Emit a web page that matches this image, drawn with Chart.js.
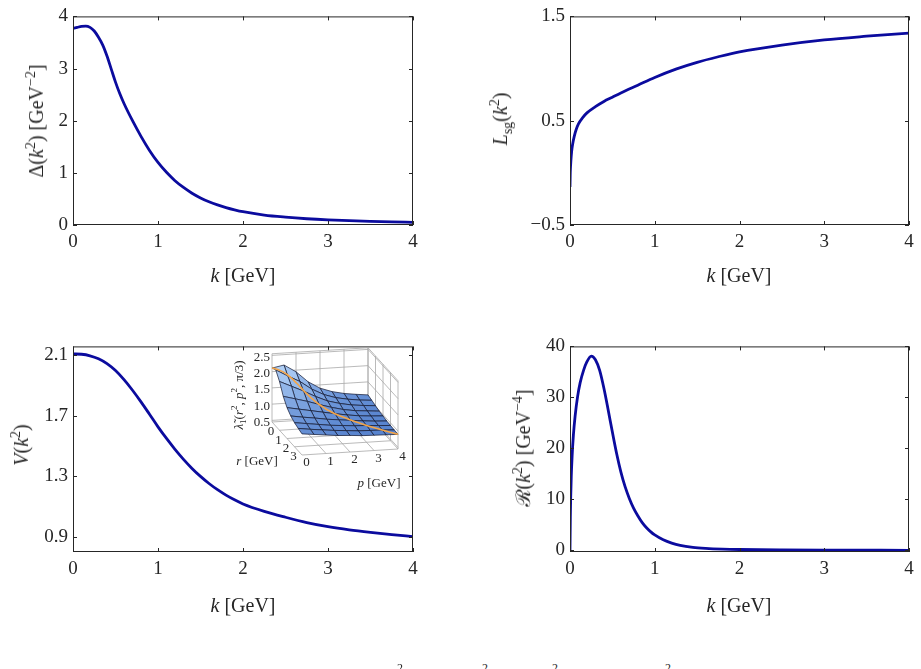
<!DOCTYPE html>
<html>
<head>
<meta charset="utf-8">
<script src="https://cdn.jsdelivr.net/npm/chart.js@4.4.1/dist/chart.umd.min.js"></script>
<style>
  html, body { margin: 0; padding: 0; background: #fff; }
  body { width: 921px; height: 669px; position: relative; overflow: hidden;
         font-family: "Liberation Serif", "DejaVu Serif", serif; color: #262626; }
  canvas { position: absolute; }
  .lbl { position: absolute; white-space: nowrap; font-size: 20px; line-height: 1;
         transform: translate(-50%, -50%); }
  .rot { transform: translate(-50%, -50%) rotate(-90deg); }
  .sm { font-size: 13px; }
  .cap { font-size: 12px; }
  sup, sub { font-size: 0.7em; line-height: 0; }
</style>
</head>
<body>
<canvas id="cDelta" width="460" height="300" style="left:0;top:0"></canvas>
<canvas id="cL" width="461" height="300" style="left:460px;top:0"></canvas>
<canvas id="cV" width="460" height="300" style="left:0;top:330px"></canvas>
<canvas id="cR" width="461" height="300" style="left:460px;top:330px"></canvas>
<canvas id="cInset" width="195" height="155" style="left:225px;top:345px"></canvas>

<div class="lbl" style="left:243px;top:275px"><i>k</i> [GeV]</div>
<div class="lbl" style="left:739px;top:275px"><i>k</i> [GeV]</div>
<div class="lbl" style="left:243px;top:605px"><i>k</i> [GeV]</div>
<div class="lbl" style="left:739px;top:605px"><i>k</i> [GeV]</div>
<div class="lbl rot" style="left:36px;top:121px">Δ(<i>k</i><sup>2</sup>) [GeV<sup>−2</sup>]</div>
<div class="lbl rot" style="left:500px;top:119px"><i>L</i><sub>sg</sub>(<i>k</i><sup>2</sup>)</div>
<div class="lbl rot" style="left:21px;top:445px"><i>V</i>(<i>k</i><sup>2</sup>)</div>
<div class="lbl rot" style="left:523px;top:448px">ℛ(<i>k</i><sup>2</sup>) [GeV<sup>−4</sup>]</div>

<div class="lbl sm rot" style="left:238px;top:395px"><i>λ̃</i><sub>1</sub>(<i>r</i><sup>2</sup>, <i>p</i><sup>2</sup>, π/3)</div>
<div class="lbl sm" style="left:257px;top:460px"><i>r</i> [GeV]</div>
<div class="lbl sm" style="left:379px;top:482px"><i>p</i> [GeV]</div>

<span class="lbl cap" style="left:400px;top:668px">2</span>
<span class="lbl cap" style="left:485px;top:668px">2</span>
<span class="lbl cap" style="left:555px;top:668px">2</span>
<span class="lbl cap" style="left:668px;top:668px">2</span>

<script>
// gluon propagator Delta(k^2)
const kDelta = [0, 0.05, 0.1, 0.15, 0.2, 0.25, 0.3, 0.35, 0.4, 0.45, 0.5, 0.55, 0.6, 0.7, 0.8, 0.9, 1.0, 1.1, 1.2, 1.3, 1.4, 1.5, 1.6, 1.7, 1.8, 1.9, 2.0, 2.25, 2.5, 2.75, 3.0, 3.25, 3.5, 3.75, 4.0];
const delta = [3.77, 3.79, 3.81, 3.815, 3.79, 3.72, 3.60, 3.45, 3.24, 2.99, 2.74, 2.52, 2.33, 2.0, 1.70, 1.43, 1.20, 1.01, 0.85, 0.72, 0.61, 0.52, 0.445, 0.385, 0.335, 0.292, 0.255, 0.19, 0.15, 0.12, 0.098, 0.082, 0.07, 0.06, 0.052];

// L_sg(k^2)
const kL = [0, 0.0025, 0.005, 0.01, 0.02, 0.03, 0.05, 0.075, 0.1, 0.15, 0.2, 0.3, 0.4, 0.5, 0.6, 0.8, 1.0, 1.25, 1.5, 1.75, 2.0, 2.5, 3.0, 3.5, 4.0];
const lsg = [-0.135, -0.02, 0.04, 0.11, 0.21, 0.27, 0.35, 0.42, 0.47, 0.53, 0.575, 0.635, 0.685, 0.725, 0.765, 0.84, 0.915, 0.995, 1.06, 1.113, 1.16, 1.225, 1.275, 1.31, 1.34];

// V(k^2)
const kV = [0, 0.1, 0.2, 0.3, 0.4, 0.5, 0.6, 0.7, 0.8, 0.9, 1.0, 1.1, 1.2, 1.3, 1.4, 1.5, 1.6, 1.7, 1.8, 1.9, 2.0, 2.25, 2.5, 2.75, 3.0, 3.25, 3.5, 3.75, 4.0];
const vk = [2.11, 2.108, 2.098, 2.078, 2.046, 2.0, 1.94, 1.87, 1.793, 1.711, 1.628, 1.551, 1.479, 1.413, 1.353, 1.30, 1.253, 1.212, 1.176, 1.145, 1.118, 1.069, 1.03, 0.995, 0.968, 0.947, 0.93, 0.915, 0.902];

// R(k^2)
const kR = [0, 0.004, 0.008, 0.015, 0.025, 0.04, 0.06, 0.09, 0.12, 0.16, 0.2, 0.25, 0.3, 0.35, 0.4, 0.45, 0.5, 0.55, 0.6, 0.65, 0.7, 0.75, 0.8, 0.85, 0.9, 0.95, 1.0, 1.1, 1.2, 1.3, 1.45, 1.6, 1.8, 2.0, 2.5, 3.0, 4.0];
const rk = [0, 6.5, 10.3, 14.5, 18.5, 22.6, 26.3, 30.2, 32.9, 35.3, 37.0, 38.1, 37.4, 35.3, 31.8, 27.6, 23.2, 19.0, 15.4, 12.5, 10.2, 8.3, 6.8, 5.5, 4.5, 3.7, 3.05, 2.1, 1.45, 1.0, 0.62, 0.42, 0.27, 0.19, 0.1, 0.06, 0.03];

// tick labels
const xTicks = [0, 1, 2, 3, 4];
const deltaTicks = [0, 1, 2, 3, 4];
const lTicks = [-0.5, 0.5, 1.5];
const vTicks = [0.9, 1.3, 1.7, 2.1];
const rTicks = [0, 10, 20, 30, 40];

// inset surface lambda1(r^2, p^2, pi/3): rows r, columns p
const gridR = [0, 0.5, 1, 1.5, 2, 2.5, 3, 3.5, 4];
const gridP = [0, 0.5, 1, 1.5, 2, 2.5, 3, 3.5, 4];
const lambdaGrid = [
  [2.11, 2.18, 1.95, 1.62, 1.40, 1.27, 1.19, 1.14, 1.10],
  [2.18, 1.97, 1.78, 1.52, 1.33, 1.21, 1.14, 1.09, 1.06],
  [1.95, 1.78, 1.61, 1.42, 1.26, 1.16, 1.09, 1.05, 1.02],
  [1.62, 1.52, 1.42, 1.30, 1.19, 1.10, 1.04, 1.01, 0.98],
  [1.40, 1.33, 1.26, 1.19, 1.12, 1.06, 1.01, 0.98, 0.96],
  [1.27, 1.21, 1.16, 1.10, 1.06, 1.02, 0.98, 0.95, 0.93],
  [1.19, 1.14, 1.09, 1.04, 1.01, 0.98, 0.965, 0.94, 0.92],
  [1.14, 1.09, 1.05, 1.01, 0.98, 0.95, 0.94, 0.93, 0.91],
  [1.10, 1.06, 1.02, 0.98, 0.96, 0.93, 0.92, 0.91, 0.90]
];
const insetZTicks = [0.5, 1.0, 1.5, 2.0, 2.5];
const insetRTicks = [0, 1, 2, 3];
const insetPTicks = [0, 1, 2, 3, 4];

const ink = '#262626';
const blue = '#0b0b9e';
const serif = '"Liberation Serif", "DejaVu Serif", serif';

// box frame with inward ticks on all four sides
const frameTicks = {
  id: 'frameTicks',
  afterDraw(chart) {
    const { ctx, chartArea: a, scales } = chart;
    const len = 4;
    ctx.save();
    ctx.strokeStyle = ink;
    ctx.lineWidth = 1;
    ctx.strokeRect(a.left + 0.5, a.top + 0.5, a.right - a.left - 1, a.bottom - a.top - 1);
    ctx.beginPath();
    scales.x.ticks.forEach(t => {
      const px = Math.round(scales.x.getPixelForValue(t.value)) + 0.5;
      ctx.moveTo(px, a.bottom); ctx.lineTo(px, a.bottom - len);
      ctx.moveTo(px, a.top); ctx.lineTo(px, a.top + len);
    });
    scales.y.ticks.forEach(t => {
      const py = Math.round(scales.y.getPixelForValue(t.value)) + 0.5;
      ctx.moveTo(a.left, py); ctx.lineTo(a.left + len, py);
      ctx.moveTo(a.right, py); ctx.lineTo(a.right - len, py);
    });
    ctx.stroke();
    ctx.restore();
  }
};

function makePanel(id, ks, vals, y, box) {
  return new Chart(document.getElementById(id), {
    type: 'line',
    data: {
      datasets: [{
        data: ks.map((k, i) => ({ x: k, y: vals[i] })),
        borderColor: blue,
        borderWidth: 2.8,
        pointRadius: 0,
        cubicInterpolationMode: 'monotone',
        fill: false
      }]
    },
    options: {
      responsive: false,
      animation: false,
      events: [],
      layout: { padding: { top: box.top, right: box.right, left: 0, bottom: 0 } },
      plugins: { legend: { display: false }, tooltip: { enabled: false } },
      scales: {
        x: {
          type: 'linear', min: 0, max: 4,
          afterFit: s => { s.height = box.xh; },
          afterBuildTicks: s => { s.ticks = xTicks.map(v => ({ value: v })); },
          grid: { display: false, drawTicks: false },
          border: { display: false },
          ticks: { color: ink, font: { family: serif, size: 19 }, padding: 6, maxRotation: 0 }
        },
        y: {
          type: 'linear', min: y.min, max: y.max,
          afterFit: s => { s.width = box.yw; },
          afterBuildTicks: s => { s.ticks = y.ticks.map(v => ({ value: v })); },
          grid: { display: false, drawTicks: false },
          border: { display: false },
          ticks: { color: ink, font: { family: serif, size: 19 }, padding: 5, callback: y.fmt }
        }
      }
    },
    plugins: [frameTicks]
  });
}

const minus = v => String(v).replace('-', '\u2212');
makePanel('cDelta', kDelta, delta, { min: 0, max: 4, ticks: deltaTicks, fmt: v => String(v) },
  { top: 15, right: 47, yw: 73, xh: 75 });
makePanel('cL', kL, lsg, { min: -0.5, max: 1.5, ticks: lTicks, fmt: minus },
  { top: 15, right: 12, yw: 110, xh: 75 });
makePanel('cV', kV, vk, { min: 0.8, max: 2.16, ticks: vTicks, fmt: v => v.toFixed(1) },
  { top: 13, right: 47, yw: 73, xh: 78 });
makePanel('cR', kR, rk, { min: -0.3, max: 40, ticks: rTicks, fmt: v => String(v) },
  { top: 13, right: 12, yw: 110, xh: 78 });

// ---- inset: oblique projection of (p, r, z) into the inset's own x/y scales
const zMin = 0.45, zTop = 2.55;
const proj = (p, r, z) => ({ x: 47 + 24 * p + 7.5 * r, y: 77 - 1.5 * p + 8.25 * r - 32.5 * (z - zMin) });

function patchColor(z) {
  const t = Math.max(0, Math.min(1, (z - 0.9) / 1.25));
  const c0 = [86, 130, 206], c1 = [178, 210, 247];
  const c = c0.map((v, i) => Math.round(v + (c1[i] - v) * t));
  return `rgb(${c[0]},${c[1]},${c[2]})`;
}

const patches = [];
for (let i = 0; i < gridR.length - 1; i++) {
  for (let j = 0; j < gridP.length - 1; j++) {
    const cs = [[i, j], [i, j + 1], [i + 1, j + 1], [i + 1, j]];
    const pts = cs.map(([a, b]) => proj(gridP[b], gridR[a], lambdaGrid[a][b]));
    pts.push(pts[0]);
    const zm = cs.reduce((s, [a, b]) => s + lambdaGrid[a][b], 0) / 4;
    patches.push({ near: gridR[i] - 0.3 * gridP[j], pts, zm });
  }
}
patches.sort((a, b) => a.near - b.near);
const insetSets = patches.map((pt, n) => ({
  data: pt.pts,
  borderColor: 'rgba(20,25,50,0.9)',
  borderWidth: 0.8,
  backgroundColor: patchColor(pt.zm),
  fill: 'shape',
  pointRadius: 0,
  tension: 0,
  clip: false,
  order: patches.length - n + 1
}));
insetSets.push({
  data: kV.map((k, i) => proj(k, k, vk[i])),
  borderColor: '#f4a548',
  borderWidth: 1.6,
  pointRadius: 0,
  cubicInterpolationMode: 'monotone',
  fill: false,
  clip: false,
  order: 0
});

const insetBox = {
  id: 'insetBox',
  beforeDatasetsDraw(chart) {
    const { ctx, scales: { x, y } } = chart;
    const P = (p, r, z) => { const q = proj(p, r, z); return [x.getPixelForValue(q.x), y.getPixelForValue(q.y)]; };
    const seg = (a, b) => { ctx.moveTo(...a); ctx.lineTo(...b); };
    ctx.save();
    ctx.strokeStyle = '#a8a8a8';
    ctx.lineWidth = 0.8;
    ctx.beginPath();
    // back pane r = 0
    insetPTicks.forEach(p => seg(P(p, 0, zMin), P(p, 0, zTop)));
    insetZTicks.forEach(z => seg(P(0, 0, z), P(4, 0, z)));
    seg(P(0, 0, zTop), P(4, 0, zTop));
    // right pane p = 4
    [0, 1, 2, 3, 4].forEach(r => seg(P(4, r, zMin), P(4, r, zTop)));
    insetZTicks.forEach(z => seg(P(4, 0, z), P(4, 4, z)));
    seg(P(4, 0, zTop), P(4, 4, zTop));
    // floor
    insetPTicks.forEach(p => seg(P(p, 0, zMin), P(p, 4, zMin)));
    [0, 1, 2, 3, 4].forEach(r => seg(P(0, r, zMin), P(4, r, zMin)));
    ctx.stroke();
    ctx.restore();
  },
  afterDraw(chart) {
    const { ctx, scales: { x, y } } = chart;
    const P = (p, r, z) => { const q = proj(p, r, z); return [x.getPixelForValue(q.x), y.getPixelForValue(q.y)]; };
    ctx.save();
    ctx.fillStyle = ink;
    ctx.font = `13px ${serif}`;
    ctx.textBaseline = 'middle';
    ctx.textAlign = 'right';
    insetZTicks.forEach(z => { const [px, py] = P(0, 0, z); ctx.fillText(z.toFixed(1), px - 2, py + 2); });
    ctx.textAlign = 'center';
    insetRTicks.forEach(r => { const [px, py] = P(0, r, zMin); ctx.fillText(String(r), px - 1, py + 10); });
    insetPTicks.forEach(p => { const [px, py] = P(p, 4.6, zMin); ctx.fillText(String(p), px, py + 3); });
    ctx.restore();
  }
};

new Chart(document.getElementById('cInset'), {
  type: 'line',
  data: { datasets: insetSets },
  options: {
    responsive: false,
    animation: false,
    events: [],
    layout: { padding: 0 },
    plugins: { legend: { display: false }, tooltip: { enabled: false } },
    scales: {
      x: { type: 'linear', display: false, min: 0, max: 195 },
      y: { type: 'linear', display: false, min: 0, max: 155, reverse: true }
    }
  },
  plugins: [insetBox]
});
</script>
</body>
</html>
